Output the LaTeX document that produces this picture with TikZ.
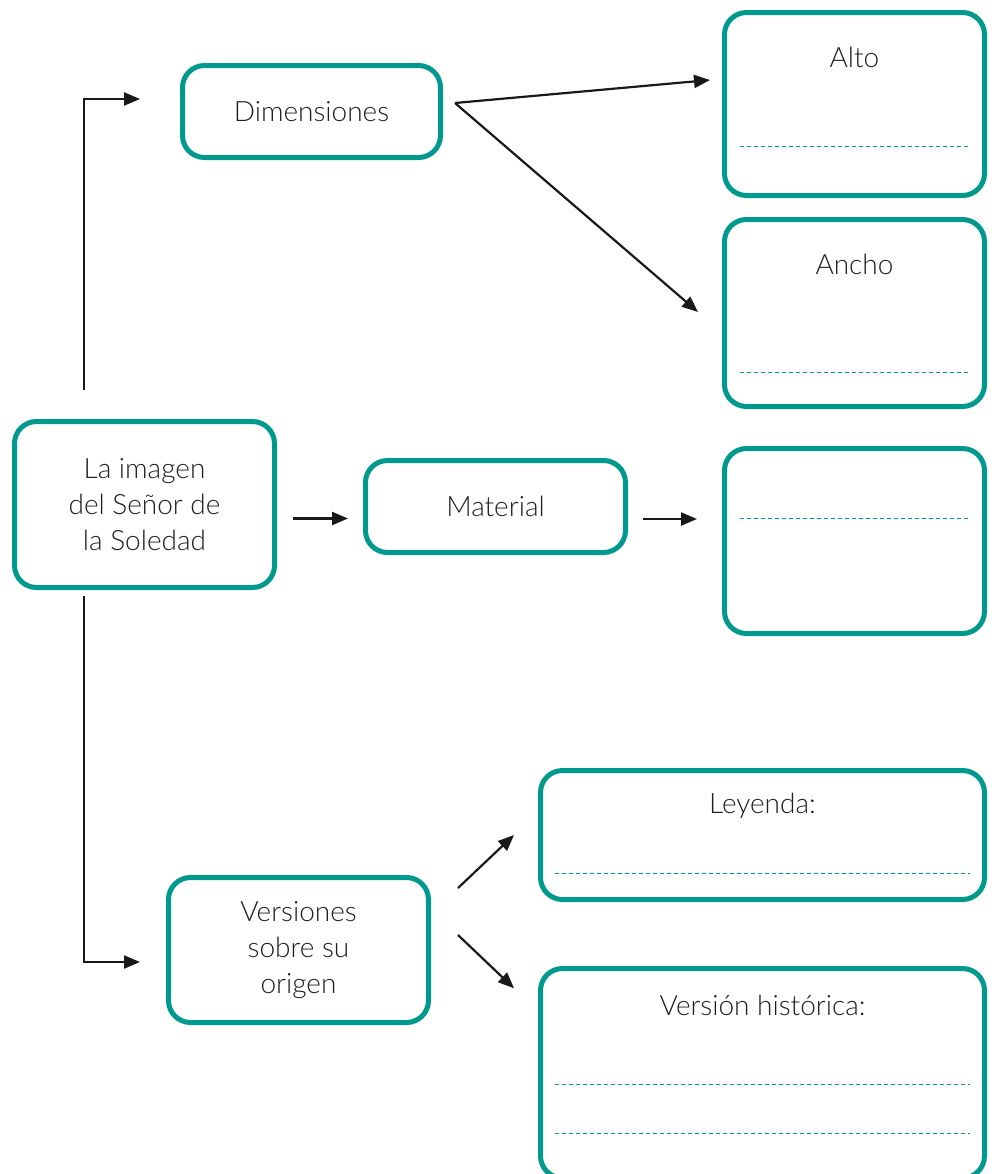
\documentclass[tikz,border=0pt]{standalone}
\usepackage{fontspec}
\IfFontExistsTF{Lato Light}{\setmainfont{Lato Light}}{\setmainfont{Lato}}
\usepackage{tikz}
\usetikzlibrary{arrows.meta}
\definecolor{boxteal}{HTML}{00998E}
\newcommand{\writeline}[3]{
    \draw[writeline] (#1,#3) -- (#2,#3);
}
\tikzset{
    boxtext/.style={font=\fontsize{14}{18}\selectfont, text=black!88},
    box/.style={draw=boxteal, line width=2.5pt, rounded corners=11pt, align=center, boxtext},
    writeline/.style={draw=boxteal, line width=0.5pt, dash pattern=on 2pt off 1.5pt},
    arr/.style={-{Triangle[length=8pt,width=6.5pt]}, line width=1.1pt, black!90}
}

\begin{document}
\begin{tikzpicture}[x=0.5pt,y=-0.5pt]
        \useasboundingbox (0,0) rectangle (994,1174);
        \clip (0,0) rectangle (994,1174);
        \node[box, minimum width=129pt, minimum height=46pt] (dim) at (311.5,111.5) {Dimensiones};
        \node[box, minimum width=130pt, minimum height=91.5pt,
            label={[boxtext, anchor=center, yshift=-23.5pt]north:Alto}] (alto) at (854.5,104) {};
        \node[box, minimum width=130pt, minimum height=93.5pt,
            label={[boxtext, anchor=center, yshift=-23.5pt]north:Ancho}] (ancho) at (854.5,313) {};
        \node[box, minimum width=130pt, minimum height=92.5pt] (matbox) at (854.5,541) {};
        \node[box, minimum width=130pt, minimum height=83pt] (imagen) at (144.5,504.5) {La imagen\\del Señor de\\la Soledad};
        \node[box, minimum width=130pt, minimum height=46pt] (material) at (495.5,506.5) {Material};
        \node[box, minimum width=130pt, minimum height=72.5pt] (versiones) at (298.5,950) {Versiones\\sobre su\\origen};
        \node[box, minimum width=222pt, minimum height=64.5pt,
            label={[boxtext, anchor=center, yshift=-19pt]north:Leyenda:}] (leyenda) at (762.5,835) {};
        \node[box, minimum width=222pt, minimum height=104.75pt,
            label={[boxtext, anchor=center, yshift=-19.5pt]north:Versión histórica:}] (historica) at (762.5,1073.25) {};
        % lines to write on
        \writeline{740}{970}{146}
        \writeline{740}{970}{372}
        \writeline{740}{970}{518}
        \writeline{555}{970}{873}
        \writeline{555}{970}{1084}
        \writeline{555}{970}{1133}
        % connectors
        \draw[arr] ([shift={(-30.25pt,14.5pt)}]imagen.north) |- ([shift={(-20pt,6.25pt)}]dim.west);
        \draw[arr] ([shift={(-30.25pt,-3pt)}]imagen.south) |- ([shift={(-13pt,-6pt)}]versiones.west);
        \draw[arr] ([shift={(8pt,-7pt)}]imagen.east) -- ([shift={(-7.5pt,-6pt)}]material.west);
        \draw[arr] ([shift={(7.5pt,-6.25pt)}]material.east) -- ([shift={(-12.5pt,11pt)}]matbox.west);
        \draw[arr] ([shift={(6pt,4.25pt)}]dim.east) -- ([shift={(-6pt,12pt)}]alto.west);
        \draw[arr] ([shift={(6pt,4.25pt)}]dim.east) -- ([shift={(-12pt,0.5pt)}]ancho.west);
        \draw[arr] ([shift={(13.5pt,31pt)}]versiones.east) -- ([shift={(-12pt,0pt)}]leyenda.west);
        \draw[arr] ([shift={(13.5pt,7.5pt)}]versiones.east) -- ([shift={(-12pt,42.5pt)}]historica.west); % into lower box
    \end{tikzpicture}
\end{document}
